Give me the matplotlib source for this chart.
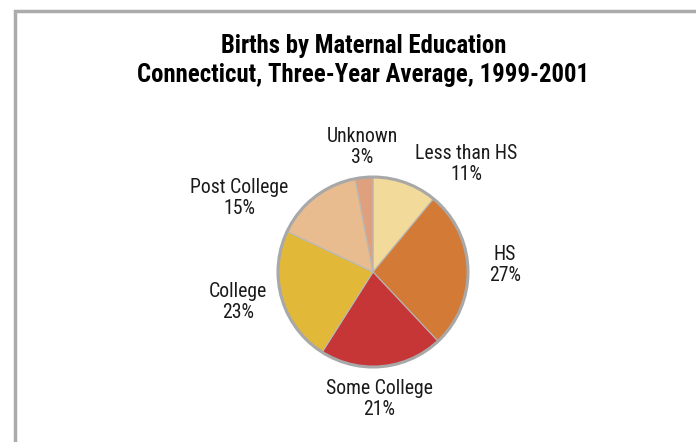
import matplotlib
matplotlib.use("Agg")
import matplotlib.pyplot as plt
from matplotlib.patches import Circle, Rectangle

categories = ['Less than HS', 'HS', 'Some College', 'College', 'Post College', 'Unknown']
shares = [11, 27, 21, 23, 15, 3]
colors = ['#F2DA9A', '#D37A37', '#C63636', '#E2B838', '#E8BC8F', '#DFA07E']

# label anchors in pixel space (x, y from top)
label_pos = [(466, 164), (505, 265), (379, 399), (238, 302), (239, 198), (362, 147)]

W, H = 696, 442
fam = ['Roboto Condensed', 'DejaVu Sans']

fig = plt.figure(figsize=(W / 100, H / 100), dpi=100)
ax = fig.add_axes([0, 0, 1, 1])

cx, cy, r = 373, H - 272, 95
ax.pie(shares, colors=colors, startangle=90, counterclock=False,
       center=(cx, cy), radius=r, frame=True,
       wedgeprops=dict(edgecolor='#B8B8B8', linewidth=0.8))
ax.set_xlim(0, W)
ax.set_ylim(0, H)
ax.set_aspect('equal')
ax.axis('off')
ax.add_patch(Circle((cx, cy), r, fill=False, edgecolor='#A8A8A8', linewidth=2.2))

# frame, open on the right and bottom
ax.add_patch(Rectangle((14.5, -10), W + 20, H - 10.5 + 10, fill=False,
                       edgecolor='#ABABAB', linewidth=2.5))

for name, val, (x, y) in zip(categories, shares, label_pos):
    ax.text(x, H - y, f'{name}\n{val}%', ha='center', va='center',
            fontsize=14.2, family=fam, color='#1a1a1a', linespacing=1.12)

ax.text(364, H - 53, 'Births by Maternal Education', ha='center', va='baseline',
        fontsize=17.8, fontweight='bold', family=fam)
ax.text(363, H - 82, 'Connecticut, Three-Year Average, 1999-2001', ha='center', va='baseline',
        fontsize=17.8, fontweight='bold', family=fam)

fig.savefig('out.png', dpi=100)
